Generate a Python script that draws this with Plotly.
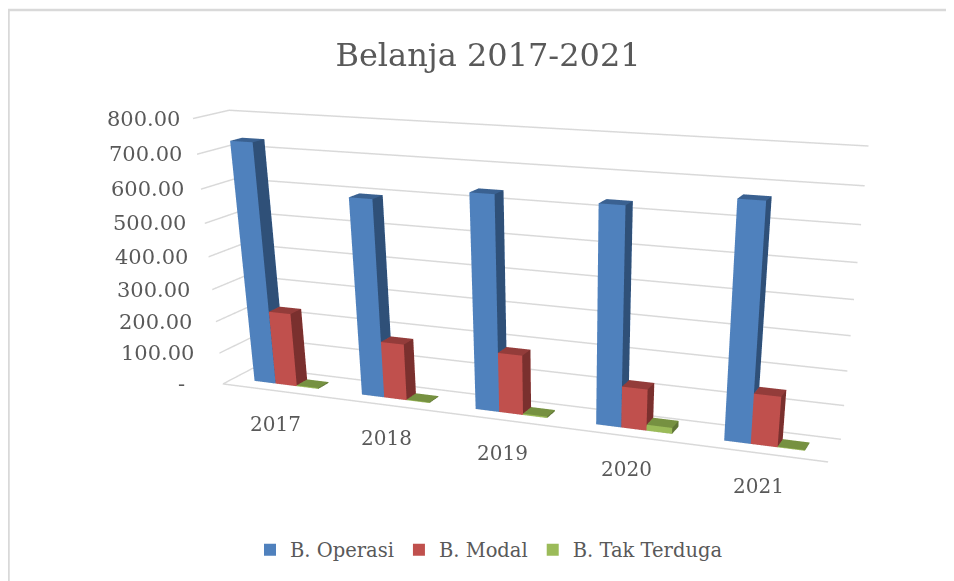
import plotly.graph_objects as go

years = ["2017", "2018", "2019", "2020", "2021"]
series_names = ["B. Operasi", "B. Modal", "B. Tak Terduga"]
operasi = [733, 596, 635, 631, 669]
modal = [230, 174, 181, 123, 147]
tak_terduga = [3, 2, 4, 18, 2]
z_ticks = [0, 100, 200, 300, 400, 500, 600, 700, 800]
z_labels = ["-", "100.00", "200.00", "300.00", "400.00", "500.00", "600.00", "700.00", "800.00"]
front_colors = ["#4F81BD", "#C0504D", "#9BBB59"]
right_colors = ["#2F5078", "#7A302E", "#5F7536"]
top_colors = ["#3A6191", "#933C3A", "#769141"]

W, H = 954, 1150
BAR = 0.2
TEXT = "#595959"
FONT = "DejaVu Serif"


def bar_mesh(values, idx):
    xs, ys, zs, i, j, k, fc = [], [], [], [], [], [], []
    for c, v in enumerate(values):
        x0 = c + 0.5 + (idx - 1.5) * BAR
        x1 = x0 + BAR
        y0, y1 = 0.33, 0.67
        b = len(xs)
        xs += [x0, x1, x1, x0, x0, x1, x1, x0]
        ys += [y0, y0, y1, y1, y0, y0, y1, y1]
        zs += [0, 0, 0, 0, v, v, v, v]
        quads = [
            ((0, 1, 5, 4), front_colors[idx]),
            ((1, 2, 6, 5), right_colors[idx]),
            ((4, 5, 6, 7), top_colors[idx]),
            ((3, 0, 4, 7), front_colors[idx]),
            ((2, 3, 7, 6), front_colors[idx]),
            ((0, 1, 2, 3), right_colors[idx]),
        ]
        for q, col in quads:
            i += [b + q[0], b + q[0]]
            j += [b + q[1], b + q[2]]
            k += [b + q[2], b + q[3]]
            fc += [col, col]
    return go.Mesh3d(
        x=xs, y=ys, z=zs, i=i, j=j, k=k, facecolor=fc, flatshading=True,
        lighting=dict(ambient=1, diffuse=0, specular=0, roughness=1, fresnel=0),
        hoverinfo="skip", showlegend=False, showscale=False,
    )


fig = go.Figure()
for n, vals in enumerate([operasi, modal, tak_terduga]):
    fig.add_trace(bar_mesh(vals, n))
for n, name in enumerate(series_names):
    fig.add_trace(go.Scatter3d(
        x=[None], y=[None], z=[None], mode="markers", name=name,
        marker=dict(symbol="square", size=9, color=front_colors[n]),
    ))

annots = []
for v, t in zip(z_ticks, z_labels):
    annots.append(dict(x=0, y=0, z=v, text=t, showarrow=False, xanchor="right", yanchor="middle",
                       xshift=(-25 + 0.017 * v) if v else -36,
                       font=dict(family=FONT, size=21, color=TEXT)))
for c, t in enumerate(years):
    annots.append(dict(x=c + 0.5, y=0, z=0, text=t, showarrow=False, xanchor="center", yanchor="middle",
                       yshift=-33, font=dict(family=FONT, size=20, color=TEXT)))

axis_common = dict(showbackground=False, showticklabels=False, title=dict(text=""), ticks="",
                   zeroline=False, showspikes=False)
fig.update_layout(
    width=W, height=H, margin=dict(l=0, r=0, t=0, b=0), autosize=False,
    paper_bgcolor="white",
    title=dict(text="Belanja 2017-2021", x=480 / W, xanchor="center", y=1 - 47 / H, yanchor="middle",
               font=dict(family=FONT, size=32, color=TEXT)),
    legend=dict(orientation="h", x=481 / W, xanchor="center", y=1 - 542 / H, yanchor="middle",
                font=dict(family=FONT, size=19.5, color=TEXT), itemsizing="constant", itemwidth=30),
    shapes=[
        dict(type="line", xref="paper", yref="paper", x0=0, x1=1.05, y0=1 - 2 / H, y1=1 - 2 / H,
             line=dict(color="#D9D9D9", width=2.5)),
        dict(type="line", xref="paper", yref="paper", x0=0.5 / W, x1=0.5 / W, y0=1 - 2 / H, y1=1 - 581 / H,
             line=dict(color="#D9D9D9", width=2.5)),
    ],
    scene=dict(
        domain=dict(x=[0.1636, 1], y=[0, 1]),
        aspectmode="manual", aspectratio=dict(x=2, y=0.197, z=0.836),
        camera=dict(eye=dict(x=1.599, y=-3.8085, z=1.0116), center=dict(x=0.235, y=-0.1995, z=-0.887),
                    up=dict(x=0, y=0, z=1), projection=dict(type="perspective")),
        xaxis=dict(range=[0, 5], showgrid=False, showline=True, linecolor="#D9D9D9", linewidth=3, **axis_common),
        yaxis=dict(range=[0, 1], showgrid=False, showline=False, **axis_common),
        zaxis=dict(range=[0, 800], tickvals=z_ticks, showgrid=True, gridcolor="#D9D9D9", gridwidth=3,
                   showline=False, **axis_common),
        annotations=annots,
    ),
)
fig.write_html("out.html", default_width=f"{W}px", default_height=f"{H}px",
               post_script="document.documentElement.style.overflow='hidden';")
